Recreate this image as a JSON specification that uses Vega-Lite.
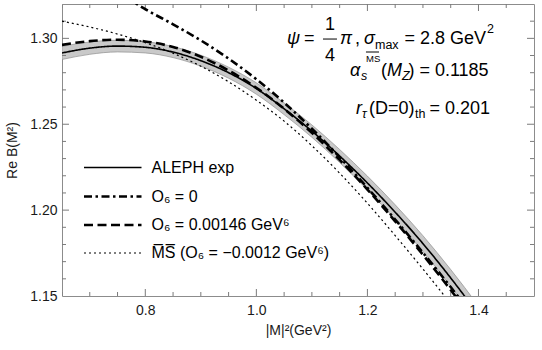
{
  "$schema": "https://vega.github.io/schema/vega-lite/v6.json",
  "width": 472,
  "height": 292,
  "autosize": {"type": "none"},
  "padding": {"left": 62, "top": 4, "right": 8, "bottom": 54},
  "background": "white",
  "config": {
    "view": {"stroke": "#8c8c8c", "strokeWidth": 1},
    "font": "Liberation Sans",
    "axis": {
      "grid": false,
      "domain": false,
      "labelFont": "Liberation Sans",
      "labelFontSize": 14,
      "labelColor": "#1a1a1a",
      "titleFont": "Liberation Sans",
      "titleFontSize": 14,
      "titleFontWeight": "normal",
      "titleColor": "#1a1a1a"
    },
    "text": {"font": "Liberation Sans", "color": "black", "baseline": "alphabetic", "align": "left"}
  },
  "datasets": {
    "band": [
      {"x": 0.65, "lo": 1.2877, "hi": 1.2953},
      {"x": 0.70, "lo": 1.2907, "hi": 1.2979},
      {"x": 0.75, "lo": 1.2921, "hi": 1.2989},
      {"x": 0.80, "lo": 1.2915, "hi": 1.2981},
      {"x": 0.85, "lo": 1.2888, "hi": 1.2952},
      {"x": 0.90, "lo": 1.2838, "hi": 1.2902},
      {"x": 0.95, "lo": 1.2768, "hi": 1.2832},
      {"x": 1.00, "lo": 1.2675, "hi": 1.2741},
      {"x": 1.05, "lo": 1.2556, "hi": 1.2624},
      {"x": 1.10, "lo": 1.2424, "hi": 1.2496},
      {"x": 1.15, "lo": 1.2277, "hi": 1.2353},
      {"x": 1.20, "lo": 1.2118, "hi": 1.2198},
      {"x": 1.25, "lo": 1.1945, "hi": 1.2031},
      {"x": 1.30, "lo": 1.1759, "hi": 1.1851},
      {"x": 1.35, "lo": 1.1556, "hi": 1.1654},
      {"x": 1.40, "lo": 1.1338, "hi": 1.1442},
      {"x": 1.45, "lo": 1.1105, "hi": 1.1215}
    ],
    "curves": [
      {"series": "ALEPH exp", "x": 0.65, "y": 1.2915},
      {"series": "ALEPH exp", "x": 0.70, "y": 1.2943},
      {"series": "ALEPH exp", "x": 0.75, "y": 1.2955},
      {"series": "ALEPH exp", "x": 0.80, "y": 1.2948},
      {"series": "ALEPH exp", "x": 0.85, "y": 1.2920},
      {"series": "ALEPH exp", "x": 0.90, "y": 1.2870},
      {"series": "ALEPH exp", "x": 0.95, "y": 1.2800},
      {"series": "ALEPH exp", "x": 1.00, "y": 1.2708},
      {"series": "ALEPH exp", "x": 1.05, "y": 1.2590},
      {"series": "ALEPH exp", "x": 1.10, "y": 1.2460},
      {"series": "ALEPH exp", "x": 1.15, "y": 1.2315},
      {"series": "ALEPH exp", "x": 1.20, "y": 1.2158},
      {"series": "ALEPH exp", "x": 1.25, "y": 1.1988},
      {"series": "ALEPH exp", "x": 1.30, "y": 1.1805},
      {"series": "ALEPH exp", "x": 1.35, "y": 1.1605},
      {"series": "ALEPH exp", "x": 1.40, "y": 1.1390},
      {"series": "ALEPH exp", "x": 1.45, "y": 1.1160},

      {"series": "O\u2086 = 0", "x": 0.74, "y": 1.3300},
      {"series": "O\u2086 = 0", "x": 0.78, "y": 1.3210},
      {"series": "O\u2086 = 0", "x": 0.80, "y": 1.3170},
      {"series": "O\u2086 = 0", "x": 0.85, "y": 1.3082},
      {"series": "O\u2086 = 0", "x": 0.90, "y": 1.2988},
      {"series": "O\u2086 = 0", "x": 0.95, "y": 1.2882},
      {"series": "O\u2086 = 0", "x": 1.00, "y": 1.2762},
      {"series": "O\u2086 = 0", "x": 1.05, "y": 1.2626},
      {"series": "O\u2086 = 0", "x": 1.10, "y": 1.2474},
      {"series": "O\u2086 = 0", "x": 1.15, "y": 1.2308},
      {"series": "O\u2086 = 0", "x": 1.20, "y": 1.2130},
      {"series": "O\u2086 = 0", "x": 1.25, "y": 1.1945},
      {"series": "O\u2086 = 0", "x": 1.30, "y": 1.1752},
      {"series": "O\u2086 = 0", "x": 1.35, "y": 1.1552},
      {"series": "O\u2086 = 0", "x": 1.40, "y": 1.1343},

      {"series": "O\u2086 = 0.00146 GeV\u2076", "x": 0.65, "y": 1.2962},
      {"series": "O\u2086 = 0.00146 GeV\u2076", "x": 0.70, "y": 1.2984},
      {"series": "O\u2086 = 0.00146 GeV\u2076", "x": 0.75, "y": 1.2992},
      {"series": "O\u2086 = 0.00146 GeV\u2076", "x": 0.80, "y": 1.2982},
      {"series": "O\u2086 = 0.00146 GeV\u2076", "x": 0.85, "y": 1.2950},
      {"series": "O\u2086 = 0.00146 GeV\u2076", "x": 0.90, "y": 1.2893},
      {"series": "O\u2086 = 0.00146 GeV\u2076", "x": 0.95, "y": 1.2813},
      {"series": "O\u2086 = 0.00146 GeV\u2076", "x": 1.00, "y": 1.2712},
      {"series": "O\u2086 = 0.00146 GeV\u2076", "x": 1.05, "y": 1.2590},
      {"series": "O\u2086 = 0.00146 GeV\u2076", "x": 1.10, "y": 1.2450},
      {"series": "O\u2086 = 0.00146 GeV\u2076", "x": 1.15, "y": 1.2292},
      {"series": "O\u2086 = 0.00146 GeV\u2076", "x": 1.20, "y": 1.2120},
      {"series": "O\u2086 = 0.00146 GeV\u2076", "x": 1.25, "y": 1.1935},
      {"series": "O\u2086 = 0.00146 GeV\u2076", "x": 1.30, "y": 1.1740},
      {"series": "O\u2086 = 0.00146 GeV\u2076", "x": 1.35, "y": 1.1535},
      {"series": "O\u2086 = 0.00146 GeV\u2076", "x": 1.40, "y": 1.1320},

      {"series": "M\u0305S\u0305 (O\u2086 = \u22120.0012 GeV\u2076)", "x": 0.65, "y": 1.3100},
      {"series": "M\u0305S\u0305 (O\u2086 = \u22120.0012 GeV\u2076)", "x": 0.70, "y": 1.3066},
      {"series": "M\u0305S\u0305 (O\u2086 = \u22120.0012 GeV\u2076)", "x": 0.75, "y": 1.3025},
      {"series": "M\u0305S\u0305 (O\u2086 = \u22120.0012 GeV\u2076)", "x": 0.80, "y": 1.2975},
      {"series": "M\u0305S\u0305 (O\u2086 = \u22120.0012 GeV\u2076)", "x": 0.85, "y": 1.2913},
      {"series": "M\u0305S\u0305 (O\u2086 = \u22120.0012 GeV\u2076)", "x": 0.90, "y": 1.2838},
      {"series": "M\u0305S\u0305 (O\u2086 = \u22120.0012 GeV\u2076)", "x": 0.95, "y": 1.2747},
      {"series": "M\u0305S\u0305 (O\u2086 = \u22120.0012 GeV\u2076)", "x": 1.00, "y": 1.2640},
      {"series": "M\u0305S\u0305 (O\u2086 = \u22120.0012 GeV\u2076)", "x": 1.05, "y": 1.2518},
      {"series": "M\u0305S\u0305 (O\u2086 = \u22120.0012 GeV\u2076)", "x": 1.10, "y": 1.2375},
      {"series": "M\u0305S\u0305 (O\u2086 = \u22120.0012 GeV\u2076)", "x": 1.15, "y": 1.2215},
      {"series": "M\u0305S\u0305 (O\u2086 = \u22120.0012 GeV\u2076)", "x": 1.20, "y": 1.2040},
      {"series": "M\u0305S\u0305 (O\u2086 = \u22120.0012 GeV\u2076)", "x": 1.25, "y": 1.1852},
      {"series": "M\u0305S\u0305 (O\u2086 = \u22120.0012 GeV\u2076)", "x": 1.30, "y": 1.1657},
      {"series": "M\u0305S\u0305 (O\u2086 = \u22120.0012 GeV\u2076)", "x": 1.35, "y": 1.1455},
      {"series": "M\u0305S\u0305 (O\u2086 = \u22120.0012 GeV\u2076)", "x": 1.40, "y": 1.1245}
    ],
    "xTicks": [
      {"v": 0.65, "kind": "minor"}, {"v": 0.7, "kind": "minor"}, {"v": 0.75, "kind": "minor"},
      {"v": 0.8, "kind": "major"}, {"v": 0.85, "kind": "minor"}, {"v": 0.9, "kind": "minor"},
      {"v": 0.95, "kind": "minor"}, {"v": 1.0, "kind": "major"}, {"v": 1.05, "kind": "minor"},
      {"v": 1.1, "kind": "minor"}, {"v": 1.15, "kind": "minor"}, {"v": 1.2, "kind": "major"},
      {"v": 1.25, "kind": "minor"}, {"v": 1.3, "kind": "minor"}, {"v": 1.35, "kind": "minor"},
      {"v": 1.4, "kind": "major"}, {"v": 1.45, "kind": "minor"}
    ],
    "yTicks": [
      {"v": 1.16, "kind": "minor"}, {"v": 1.17, "kind": "minor"}, {"v": 1.18, "kind": "minor"},
      {"v": 1.19, "kind": "minor"}, {"v": 1.2, "kind": "major"}, {"v": 1.21, "kind": "minor"},
      {"v": 1.22, "kind": "minor"}, {"v": 1.23, "kind": "minor"}, {"v": 1.24, "kind": "minor"},
      {"v": 1.25, "kind": "major"}, {"v": 1.26, "kind": "minor"}, {"v": 1.27, "kind": "minor"},
      {"v": 1.28, "kind": "minor"}, {"v": 1.29, "kind": "minor"}, {"v": 1.3, "kind": "major"},
      {"v": 1.31, "kind": "minor"}
    ],
    "notesMain": [
      {"t": "=", "x": 1.0858, "y": 1.29671},
      {"t": "1", "x": 1.1236, "y": 1.3049},
      {"t": "4", "x": 1.1236, "y": 1.28681},
      {"t": ",", "x": 1.1776, "y": 1.29671},
      {"t": "= 2.8 GeV", "x": 1.2666, "y": 1.29671},
      {"t": "(", "x": 1.2245, "y": 1.27808},
      {"t": ") = 0.1185", "x": 1.2738, "y": 1.27808},
      {"t": "(D=0)", "x": 1.2029, "y": 1.25596},
      {"t": "= 0.201", "x": 1.3116, "y": 1.25596}
    ],
    "notesItalic": [
      {"t": "\u03c8", "x": 1.0552, "y": 1.29671},
      {"t": "\u03c0", "x": 1.1506, "y": 1.29671},
      {"t": "\u03c3", "x": 1.1938, "y": 1.29671},
      {"t": "\u03b1", "x": 1.1686, "y": 1.27808},
      {"t": "M", "x": 1.2353, "y": 1.27808},
      {"t": "r", "x": 1.1794, "y": 1.25596}
    ],
    "notesSmall": [
      {"t": "max", "x": 1.2136, "y": 1.2938},
      {"t": "2", "x": 1.4153, "y": 1.3031},
      {"t": "th", "x": 1.2857, "y": 1.25363}
    ],
    "notesSmallItalic": [
      {"t": "s", "x": 1.1884, "y": 1.27575},
      {"t": "Z", "x": 1.2623, "y": 1.27575},
      {"t": "\u03c4", "x": 1.1902, "y": 1.25363}
    ],
    "notesTiny": [
      {"t": "MS", "x": 1.1974, "y": 1.28623}
    ],
    "bars": [
      {"x": 1.1200, "x2": 1.1452, "y": 1.2996},
      {"x": 1.1974, "x2": 1.2209, "y": 1.29205}
    ]
  },
  "layer": [
    {
      "data": {"name": "band"},
      "mark": {"type": "area", "fill": "#c9c9c9", "stroke": "#8f8f8f", "strokeWidth": 0.7, "clip": true, "interpolate": "monotone"},
      "encoding": {
        "x": {
          "field": "x", "type": "quantitative",
          "scale": {"domain": [0.65, 1.5], "nice": false, "zero": false},
          "axis": {"orient": "bottom", "values": [0.8, 1.0, 1.2, 1.4], "format": ".1f", "ticks": false, "labelPadding": 7, "title": "|M|\u00b2(GeV\u00b2)", "titlePadding": 6}
        },
        "y": {
          "field": "lo", "type": "quantitative",
          "scale": {"domain": [1.15, 1.32], "nice": false, "zero": false},
          "axis": {"orient": "left", "values": [1.15, 1.2, 1.25, 1.3], "format": ".2f", "ticks": false, "labelPadding": 5, "title": "Re B(M\u00b2)", "titlePadding": 10}
        },
        "y2": {"field": "hi"}
      }
    },
    {
      "data": {"name": "xTicks"},
      "mark": {"type": "tick", "orient": "vertical", "thickness": 1, "color": "#7a7a7a", "opacity": 1, "clip": true},
      "encoding": {
        "x": {"field": "v", "type": "quantitative", "scale": {"domain": [0.65, 1.5], "nice": false, "zero": false}, "axis": null},
        "y": {"datum": 1.15, "type": "quantitative", "scale": {"domain": [1.15, 1.32], "nice": false, "zero": false}, "axis": null},
        "size": {"field": "kind", "type": "nominal", "scale": {"type": "ordinal", "domain": ["major", "minor"], "range": [14, 8]}, "legend": null}
      }
    },
    {
      "data": {"name": "xTicks"},
      "mark": {"type": "tick", "orient": "vertical", "thickness": 1, "color": "#7a7a7a", "opacity": 1, "clip": true},
      "encoding": {
        "x": {"field": "v", "type": "quantitative", "scale": {"domain": [0.65, 1.5], "nice": false, "zero": false}, "axis": null},
        "y": {"datum": 1.32, "type": "quantitative", "scale": {"domain": [1.15, 1.32], "nice": false, "zero": false}, "axis": null},
        "size": {"field": "kind", "type": "nominal", "scale": {"type": "ordinal", "domain": ["major", "minor"], "range": [14, 8]}, "legend": null}
      }
    },
    {
      "data": {"name": "yTicks"},
      "mark": {"type": "tick", "orient": "horizontal", "thickness": 1, "color": "#7a7a7a", "opacity": 1, "clip": true},
      "encoding": {
        "y": {"field": "v", "type": "quantitative", "scale": {"domain": [1.15, 1.32], "nice": false, "zero": false}, "axis": null},
        "x": {"datum": 0.65, "type": "quantitative", "scale": {"domain": [0.65, 1.5], "nice": false, "zero": false}, "axis": null},
        "size": {"field": "kind", "type": "nominal", "scale": {"type": "ordinal", "domain": ["major", "minor"], "range": [14, 8]}, "legend": null}
      }
    },
    {
      "data": {"name": "yTicks"},
      "mark": {"type": "tick", "orient": "horizontal", "thickness": 1, "color": "#7a7a7a", "opacity": 1, "clip": true},
      "encoding": {
        "y": {"field": "v", "type": "quantitative", "scale": {"domain": [1.15, 1.32], "nice": false, "zero": false}, "axis": null},
        "x": {"datum": 1.5, "type": "quantitative", "scale": {"domain": [0.65, 1.5], "nice": false, "zero": false}, "axis": null},
        "size": {"field": "kind", "type": "nominal", "scale": {"type": "ordinal", "domain": ["major", "minor"], "range": [14, 8]}, "legend": null}
      }
    },
    {
      "data": {"name": "curves"},
      "mark": {"type": "line", "clip": true, "interpolate": "monotone", "color": "black"},
      "encoding": {
        "x": {"field": "x", "type": "quantitative", "scale": {"domain": [0.65, 1.5], "nice": false, "zero": false}, "axis": null},
        "y": {"field": "y", "type": "quantitative", "scale": {"domain": [1.15, 1.32], "nice": false, "zero": false}, "axis": null},
        "strokeDash": {
          "field": "series", "type": "nominal",
          "scale": {
            "domain": ["ALEPH exp", "O\u2086 = 0", "O\u2086 = 0.00146 GeV\u2076", "M\u0305S\u0305 (O\u2086 = \u22120.0012 GeV\u2076)"],
            "range": [[1, 0], [8, 3.5, 2.5, 3.5], [9, 4.5], [2, 3]]
          },
          "legend": {
            "orient": "none", "legendX": 20.5, "legendY": 151, "title": null,
            "symbolType": "M-1,0H4", "symbolSize": 529, "symbolStrokeColor": "black",
            "labelFont": "Liberation Sans", "labelFontSize": 16, "labelColor": "black",
            "labelOffset": 43, "rowPadding": 7.5, "padding": 0, "labelLimit": 400
          }
        },
        "strokeWidth": {
          "field": "series", "type": "nominal",
          "scale": {
            "type": "ordinal",
            "domain": ["ALEPH exp", "O\u2086 = 0", "O\u2086 = 0.00146 GeV\u2076", "M\u0305S\u0305 (O\u2086 = \u22120.0012 GeV\u2076)"],
            "range": [1.6, 2.6, 2.6, 1.2]
          },
          "legend": {
            "orient": "none", "legendX": 20.5, "legendY": 151, "title": null,
            "symbolType": "M-1,0H4", "symbolSize": 529, "symbolStrokeColor": "black",
            "labelFont": "Liberation Sans", "labelFontSize": 16, "labelColor": "black",
            "labelOffset": 43, "rowPadding": 7.5, "padding": 0, "labelLimit": 400
          }
        }
      }
    },
    {
      "data": {"name": "notesMain"},
      "mark": {"type": "text", "fontSize": 18},
      "encoding": {
        "x": {"field": "x", "type": "quantitative", "scale": {"domain": [0.65, 1.5], "nice": false, "zero": false}, "axis": null},
        "y": {"field": "y", "type": "quantitative", "scale": {"domain": [1.15, 1.32], "nice": false, "zero": false}, "axis": null},
        "text": {"field": "t"}
      }
    },
    {
      "data": {"name": "notesItalic"},
      "mark": {"type": "text", "fontSize": 18, "fontStyle": "italic"},
      "encoding": {
        "x": {"field": "x", "type": "quantitative", "scale": {"domain": [0.65, 1.5], "nice": false, "zero": false}, "axis": null},
        "y": {"field": "y", "type": "quantitative", "scale": {"domain": [1.15, 1.32], "nice": false, "zero": false}, "axis": null},
        "text": {"field": "t"}
      }
    },
    {
      "data": {"name": "notesSmall"},
      "mark": {"type": "text", "fontSize": 12.5},
      "encoding": {
        "x": {"field": "x", "type": "quantitative", "scale": {"domain": [0.65, 1.5], "nice": false, "zero": false}, "axis": null},
        "y": {"field": "y", "type": "quantitative", "scale": {"domain": [1.15, 1.32], "nice": false, "zero": false}, "axis": null},
        "text": {"field": "t"}
      }
    },
    {
      "data": {"name": "notesSmallItalic"},
      "mark": {"type": "text", "fontSize": 12.5, "fontStyle": "italic"},
      "encoding": {
        "x": {"field": "x", "type": "quantitative", "scale": {"domain": [0.65, 1.5], "nice": false, "zero": false}, "axis": null},
        "y": {"field": "y", "type": "quantitative", "scale": {"domain": [1.15, 1.32], "nice": false, "zero": false}, "axis": null},
        "text": {"field": "t"}
      }
    },
    {
      "data": {"name": "notesTiny"},
      "mark": {"type": "text", "fontSize": 9.5},
      "encoding": {
        "x": {"field": "x", "type": "quantitative", "scale": {"domain": [0.65, 1.5], "nice": false, "zero": false}, "axis": null},
        "y": {"field": "y", "type": "quantitative", "scale": {"domain": [1.15, 1.32], "nice": false, "zero": false}, "axis": null},
        "text": {"field": "t"}
      }
    },
    {
      "data": {"name": "bars"},
      "mark": {"type": "rule", "color": "black", "strokeWidth": 1},
      "encoding": {
        "x": {"field": "x", "type": "quantitative", "scale": {"domain": [0.65, 1.5], "nice": false, "zero": false}, "axis": null},
        "x2": {"field": "x2"},
        "y": {"field": "y", "type": "quantitative", "scale": {"domain": [1.15, 1.32], "nice": false, "zero": false}, "axis": null}
      }
    }
  ],
  "resolve": {"axis": {"x": "independent", "y": "independent"}}
}
